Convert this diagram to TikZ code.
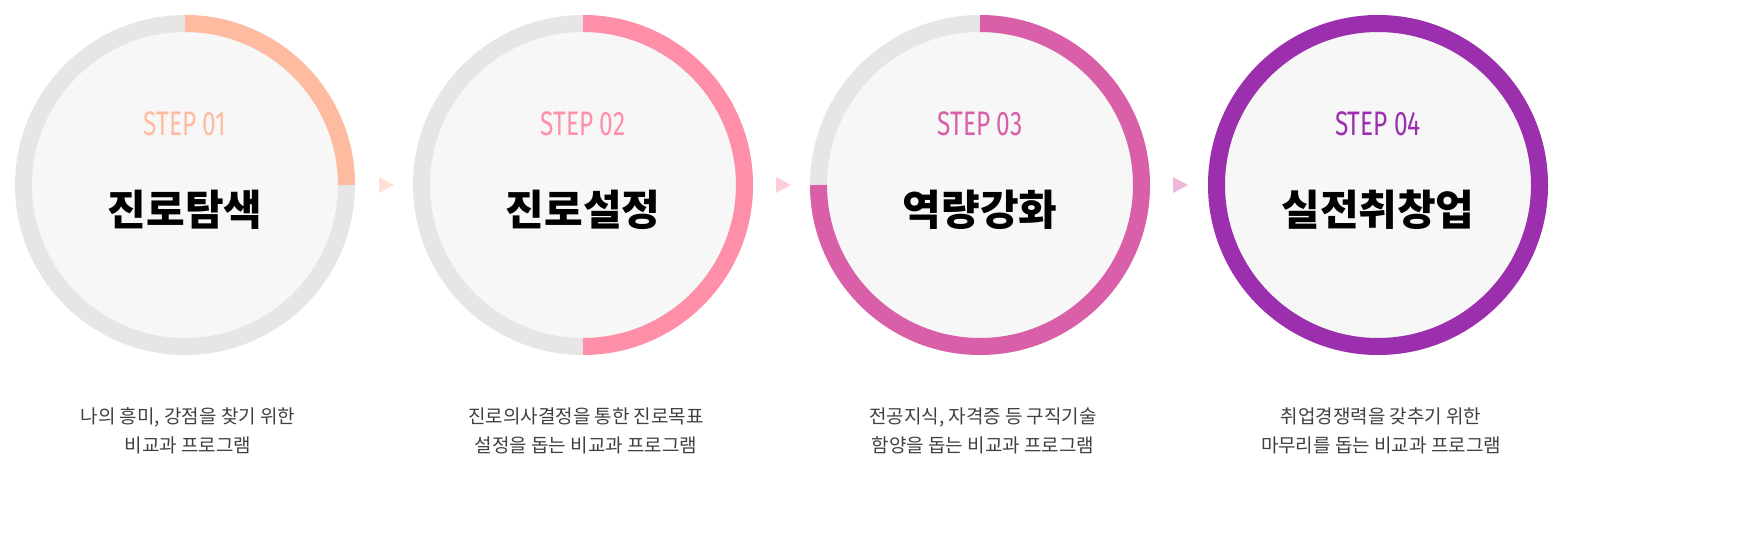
\documentclass[tikz,border=0pt]{standalone}
\usepackage{fontspec}
\usetikzlibrary{calc}
\setmainfont{Noto Sans CJK KR}
\newfontfamily\kr{Noto Sans CJK KR}
\newfontfamily\stepf{Fira Sans}
\definecolor{cA}{HTML}{FFBBA0}
\definecolor{cB}{HTML}{FF8FA8}
\definecolor{cC}{HTML}{D95FA8}
\definecolor{cD}{HTML}{9B2FAE}
\definecolor{ringg}{HTML}{E6E6E6}
\definecolor{innerf}{HTML}{F7F7F7}
\tikzset{
 ring/.style={draw=ringg,line width=17pt,fill=innerf},
 prog/.style={line width=17pt},
 steplbl/.style={font=\stepf\fontsize{34}{34}\selectfont},
 title/.style={font=\kr\bfseries\fontsize{42}{42}\selectfont,text=black},
 desc/.style={font=\kr\fontsize{19}{29}\selectfont,text=black!75,align=center},
}
\begin{document}
\begin{tikzpicture}[x=1pt,y=-1pt]
\useasboundingbox (0,0) rectangle (1753,545);
\foreach \cx/\col/\ang/\n/\t/\da/\db [count=\i] in {
 185/cA/0/01/진로탐색/나의 흥미{,} 강점을 찾기 위한/비교과 프로그램,
 583/cB/90/02/진로설정/진로의사결정을 통한 진로목표/설정을 돕는 비교과 프로그램,
 980/cC/180/03/역량강화/전공지식{,} 자격증 등 구직기술/함양을 돕는 비교과 프로그램,
 1378/cD/270/04/실전취창업/취업경쟁력을 갖추기 위한/마무리를 돕는 비교과 프로그램} {
 \draw[ring] (\cx,185) circle (161.5);
 \draw[prog,draw=\col] (\cx,23.5) arc[start angle=-90,end angle=\ang,radius=161.5];
 \node[steplbl,text=\col,xscale=0.72] (s\i) at (\cx,124) {STEP \n};
 \node[title] (t\i) at (\cx,210) {\t};
 \node[desc] (d\i) at (\cx+3,431) {\da\\\db};
}
\foreach \x/\col [count=\i] in {386/cA,783/cB,1180/cC}{
 \coordinate (a\i) at (\x,185);
 \fill[\col!45] ($(a\i)+(-7,-8)$) -- ($(a\i)+(8,0)$) -- ($(a\i)+(-7,8)$) -- cycle;
}
\end{tikzpicture}
\end{document}
